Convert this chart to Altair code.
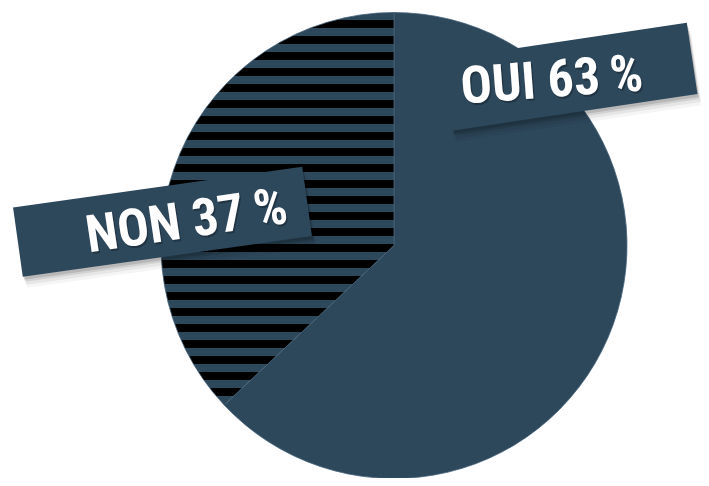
import math
import altair as alt
import pandas as pd

# ---- data ----
labels = ["OUI", "NON"]
values = [63, 37]
order = [0, 1]

df = pd.DataFrame({"label": labels, "value": values, "idx": order})

BLUE = "#2d475b"
BLACK = "#000000"

# pie geometry (chart pixel space)
CX, CY, R = 386, 237.5, 233

# horizontal stripe pattern for the NON slice as a hard-stop gradient
end_angle = 2 * math.pi * values[0] / sum(values)
top = CY - R
bottom = CY - R * math.cos(end_angle)
h = bottom - top
stops = [{"offset": 0, "color": BLUE}]
k = 0
while True:
    a = (12 + 16 * k - top) / h
    b = (20 + 16 * k - top) / h
    if a >= 1:
        break
    b = min(b, 1)
    stops += [
        {"offset": a, "color": BLUE},
        {"offset": a, "color": BLACK},
        {"offset": b, "color": BLACK},
        {"offset": b, "color": BLUE},
    ]
    k += 1
stops.append({"offset": 1, "color": BLUE})
stripes = {"gradient": "linear", "x1": 0, "y1": 0, "x2": 0, "y2": 1, "stops": stops}

base = alt.Chart(df)

pie = base.mark_arc(stroke="#46637a", strokeWidth=0.8).encode(
    theta=alt.Theta("value:Q", stack=True),
    order=alt.Order("idx:Q"),
    x=alt.value(CX),
    y=alt.value(CY),
    radius=alt.value(R),
    fill=alt.condition(alt.datum.label == "NON", alt.value(stripes), alt.value(BLUE)),
)

FONT = "Roboto Condensed, Roboto, sans-serif"


def label_layers(name, bx, by, bw, bh, bangle, tx, ty, tangle, fsize):
    hw, hh = bw / 2, bh / 2
    path = f"M{-hw},{-hh} L{hw},{-hh} L{hw},{hh} L{-hw},{hh} Z"
    src = base.transform_filter(alt.datum.label == name).transform_calculate(
        txt=alt.datum.label + " " + alt.datum.value + "\u2009%"
    )
    shadows = []
    for off, op in [(11, 0.04), (8, 0.06), (5, 0.09), (3, 0.12)]:
        shadows.append(
            src.mark_point(shape=path, size=4, filled=True, color="#000000",
                           opacity=op, angle=bangle, strokeWidth=0).encode(
                x=alt.value(bx + off * 0.4), y=alt.value(by + off))
        )
    box = src.mark_point(shape=path, size=4, filled=True, color=BLUE,
                         opacity=1, angle=bangle, strokeWidth=0).encode(
        x=alt.value(bx), y=alt.value(by))
    txt_shadow = src.mark_text(font=FONT, fontWeight="bold", fontSize=fsize, color="#000000",
                               opacity=0.25, align="center", baseline="alphabetic",
                               angle=tangle).encode(
        x=alt.value(tx + 1.5), y=alt.value(ty + 2), text="txt:N")
    txt = src.mark_text(font=FONT, fontWeight="bold", fontSize=fsize, color="white",
                        align="center", baseline="alphabetic", angle=tangle).encode(
        x=alt.value(tx), y=alt.value(ty), text="txt:N")
    return shadows + [box, txt_shadow, txt]


layers = [pie]
layers += label_layers("OUI", 561.5, 68.75, 248, 72, 351.5, 545, 89, 355.7, 52)
layers += label_layers("NON", 154.5, 213.75, 292, 70, 352, 181, 229.5, 351.5, 52)

chart = alt.layer(*layers).properties(
    width=693, height=470, padding=0, autosize="none"
).configure_view(stroke=None)

chart.save("out.html", embed_options={"renderer": "svg", "actions": False})
